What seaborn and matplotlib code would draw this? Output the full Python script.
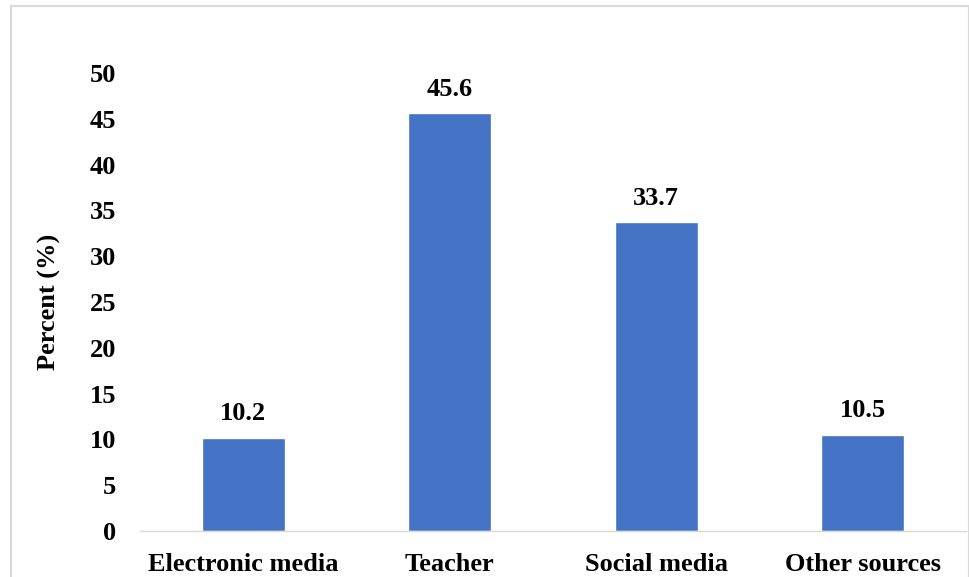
import matplotlib
matplotlib.use('Agg')
import matplotlib.pyplot as plt
import matplotlib.patches as mpatches
import seaborn as sb
import pandas as pd
import numpy as np

categories = ['Electronic media', 'Teacher', 'Social media', 'Other sources']
percent = [10.2, 45.6, 33.7, 10.5]
yticks = list(range(0, 55, 5))

sb.set_style('white')
plt.rcParams['font.family'] = ['Liberation Serif', 'DejaVu Serif']
plt.rcParams['font.weight'] = 'bold'
plt.rcParams['text.color'] = 'black'
plt.rcParams['axes.labelcolor'] = 'black'
plt.rcParams['xtick.color'] = 'black'
plt.rcParams['ytick.color'] = 'black'

df = pd.DataFrame({'source': categories, 'percent': percent})
fs = 19

fig = plt.figure(figsize=(9.7, 5.77), dpi=100)
ax = fig.add_axes([140 / 970, 1 - 531 / 577, 826 / 970, (531 - 73) / 577])

sb.barplot(data=df, x='source', y='percent', color='#4472C4',
           saturation=1, width=0.4, ax=ax)

for patch, val in zip(ax.patches, percent):
    ax.annotate(f'{val:.1f}', (patch.get_x() + patch.get_width() / 2, val),
                xytext=(0, 9), textcoords='offset points', ha='center',
                va='bottom', fontsize=fs, fontweight='bold')

ax.set_ylim(0, 50)
ax.set_xlim(-0.5, len(categories) - 0.5)
ax.set_yticks(yticks)
ax.set_yticklabels([str(t) for t in yticks], fontsize=fs, fontweight='bold')
ax.set_xticklabels(categories, fontsize=fs, fontweight='bold')
ax.set_xlabel('')
ax.set_ylabel('Percent (%)', fontsize=fs, fontweight='bold', labelpad=21)

# category separators as minor ticks on the x axis
ax.set_xticks(np.arange(-0.5, len(categories), 1), minor=True)
ax.tick_params(axis='x', which='major', length=0, pad=16)
ax.tick_params(axis='x', which='minor', length=6, color='#D9D9D9', width=1)
ax.tick_params(axis='y', length=0, pad=17)

for side in ['left', 'right', 'top']:
    ax.spines[side].set_visible(False)
ax.spines['bottom'].set_color('#D9D9D9')
ax.spines['bottom'].set_linewidth(1)

# outer chart border
border = mpatches.Rectangle((11 / 970, -0.05), 958 / 970, 1.05 - 6 / 577,
                            transform=fig.transFigure, fill=False,
                            edgecolor='#D9D9D9', linewidth=1.5)
fig.patches.append(border)

fig.savefig('out.png', dpi=100)
